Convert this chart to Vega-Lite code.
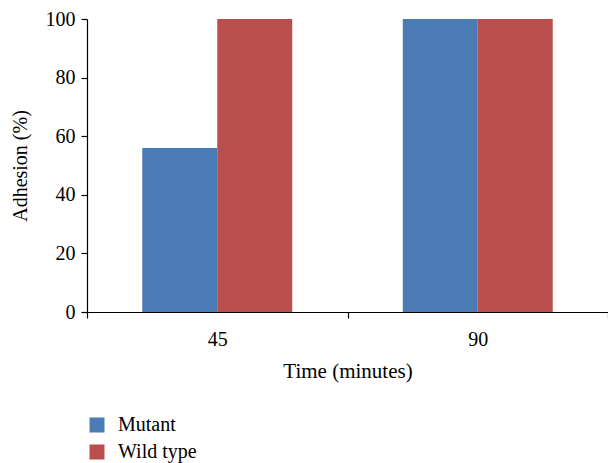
{
  "$schema": "https://vega.github.io/schema/vega-lite/v6.json",
  "width": 521,
  "height": 293,
  "autosize": {"type": "none"},
  "padding": {"left": 87, "top": 19, "right": 0, "bottom": 151},
  "background": "white",
  "config": {
    "view": {"stroke": null},
    "font": "Liberation Serif",
    "axis": {"grid": false, "domainColor": "#000000", "tickColor": "#000000", "labelColor": "#000000", "titleColor": "#000000", "labelFont": "Liberation Serif", "titleFont": "Liberation Serif", "labelFontSize": 20, "titleFontSize": 20, "titleFontWeight": "normal", "tickSize": 6, "domainWidth": 1.2, "tickWidth": 1.2}
  },
  "data": {
    "values": [
      {"time": "45", "group": "Mutant", "adhesion": 56},
      {"time": "45", "group": "Wild type", "adhesion": 100},
      {"time": "90", "group": "Mutant", "adhesion": 100},
      {"time": "90", "group": "Wild type", "adhesion": 100}
    ]
  },
  "mark": {"type": "bar", "strokeWidth": 0},
  "encoding": {
    "x": {
      "field": "time", "type": "nominal", "title": "Time (minutes)",
      "scale": {"paddingInner": 0, "paddingOuter": 0},
      "axis": {"labelAngle": 0, "tickBand": "extent", "labelPadding": 11, "titlePadding": 11, "titleFontSize": 21}
    },
    "xOffset": {"field": "group", "type": "nominal", "scale": {"paddingInner": 0, "paddingOuter": 0.737}},
    "y": {
      "field": "adhesion", "type": "quantitative", "title": "Adhesion (%)",
      "scale": {"domain": [0, 100], "nice": false},
      "axis": {"values": [0, 20, 40, 60, 80, 100], "labelPadding": 6, "titlePadding": 15}
    },
    "color": {
      "field": "group", "type": "nominal",
      "scale": {"domain": ["Mutant", "Wild type"], "range": ["#4A7BB5", "#B94E4C"]},
      "legend": {
        "title": null, "orient": "none", "legendX": 0, "legendY": 396,
        "padding": 0, "symbolType": "square", "symbolSize": 225, "symbolStrokeWidth": 0,
        "labelFont": "Liberation Serif", "labelFontSize": 20, "labelColor": "#000000",
        "labelOffset": 11, "rowPadding": 7, "symbolOpacity": 1
      }
    }
  }
}
